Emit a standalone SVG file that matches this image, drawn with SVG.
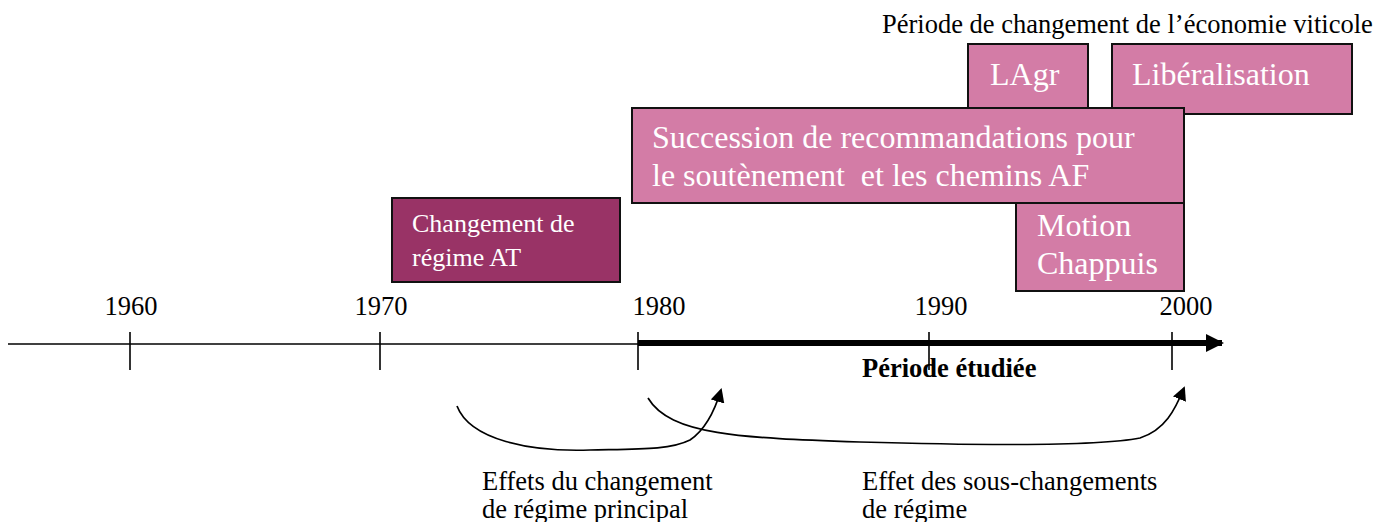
<svg xmlns="http://www.w3.org/2000/svg" width="1394" height="522" viewBox="0 0 1394 522">
  <defs>
    <style>
      text { font-family: "Liberation Serif", "Times New Roman", serif; }
      .box { fill: #D37CA6; stroke: #111; stroke-width: 2; }
      .dark { fill: #993366; stroke: #111; stroke-width: 2; }
      .boxText { fill: #fff; font-size: 32px; }
      .smallBoxText { fill: #fff; font-size: 26px; }
      .label { fill: #000; font-size: 26.5px; }
      .year { fill: #000; font-size: 26.5px; text-anchor: middle; }
      .tick { stroke: #000; stroke-width: 1.6; }
      .curve { fill: none; stroke: #000; stroke-width: 1.7; }
    </style>
    <marker id="arrowHead" markerWidth="14" markerHeight="14" refX="12" refY="7" orient="auto" markerUnits="userSpaceOnUse">
      <path d="M0,0 L14,7 L0,14 Z" fill="#000"/>
    </marker>
    <marker id="axisHead" markerWidth="18" markerHeight="18" refX="16" refY="9" orient="auto" markerUnits="userSpaceOnUse">
      <path d="M0,0 L18,9 L0,18 Z" fill="#000"/>
    </marker>
  </defs>

  <text class="label" x="882" y="33">Période de changement de l’économie viticole</text>

  <g id="node-lagr">
    <rect class="box" x="968" y="44" width="120" height="64"/>
    <text class="boxText" x="990" y="85">LAgr</text>
  </g>

  <g id="node-liberalisation">
    <rect class="box" x="1112" y="44" width="240" height="70"/>
    <text class="boxText" x="1132" y="85">Libéralisation</text>
  </g>

  <g id="node-succession">
    <rect class="box" x="632" y="108" width="552" height="95"/>
    <text class="boxText" x="652" y="148">Succession de recommandations pour</text>
    <text class="boxText" x="652" y="186" xml:space="preserve">le soutènement  et les chemins AF</text>
  </g>

  <g id="node-motion">
    <rect class="box" x="1016" y="203" width="168" height="88"/>
    <text class="boxText" x="1037" y="236">Motion</text>
    <text class="boxText" x="1037" y="274">Chappuis</text>
  </g>

  <g id="node-regime-at">
    <rect class="dark" x="392" y="198" width="228" height="84"/>
    <text class="smallBoxText" x="412" y="232">Changement de</text>
    <text class="smallBoxText" x="412" y="266">régime AT</text>
  </g>

  <g id="timeline">
    <line x1="8" y1="344" x2="638" y2="344" stroke="#000" stroke-width="1.7"/>
    <line x1="638" y1="343" x2="1222" y2="343" stroke="#000" stroke-width="6" marker-end="url(#axisHead)"/>
    <line class="tick" x1="130" y1="332" x2="130" y2="370"/>
    <line class="tick" x1="380" y1="332" x2="380" y2="370"/>
    <line class="tick" x1="638" y1="332" x2="638" y2="370"/>
    <line class="tick" x1="929" y1="332" x2="929" y2="370"/>
    <line class="tick" x1="1172" y1="332" x2="1172" y2="370"/>
    <text class="year" x="131" y="315">1960</text>
    <text class="year" x="381" y="315">1970</text>
    <text class="year" x="659" y="315">1980</text>
    <text class="year" x="941" y="315">1990</text>
    <text class="year" x="1186" y="315">2000</text>
    <text class="label" x="862" y="377" font-weight="bold">Période étudiée</text>
  </g>

  <g id="connectors">
    <path class="curve" d="M457,406 C470,440 530,452 590,450 C640,449 670,450 690,440 C705,430 715,410 721,390" marker-end="url(#arrowHead)"/>
    <path class="curve" d="M648,398 C670,435 740,438 860,442 C1000,446 1100,446 1140,438 C1165,430 1175,410 1184,388" marker-end="url(#arrowHead)"/>
  </g>

  <g id="captions">
    <text class="label" x="482" y="490">Effets du changement</text>
    <text class="label" x="482" y="518">de régime principal</text>
    <text class="label" x="862" y="490">Effet des sous-changements</text>
    <text class="label" x="862" y="518">de régime</text>
  </g>
</svg>
